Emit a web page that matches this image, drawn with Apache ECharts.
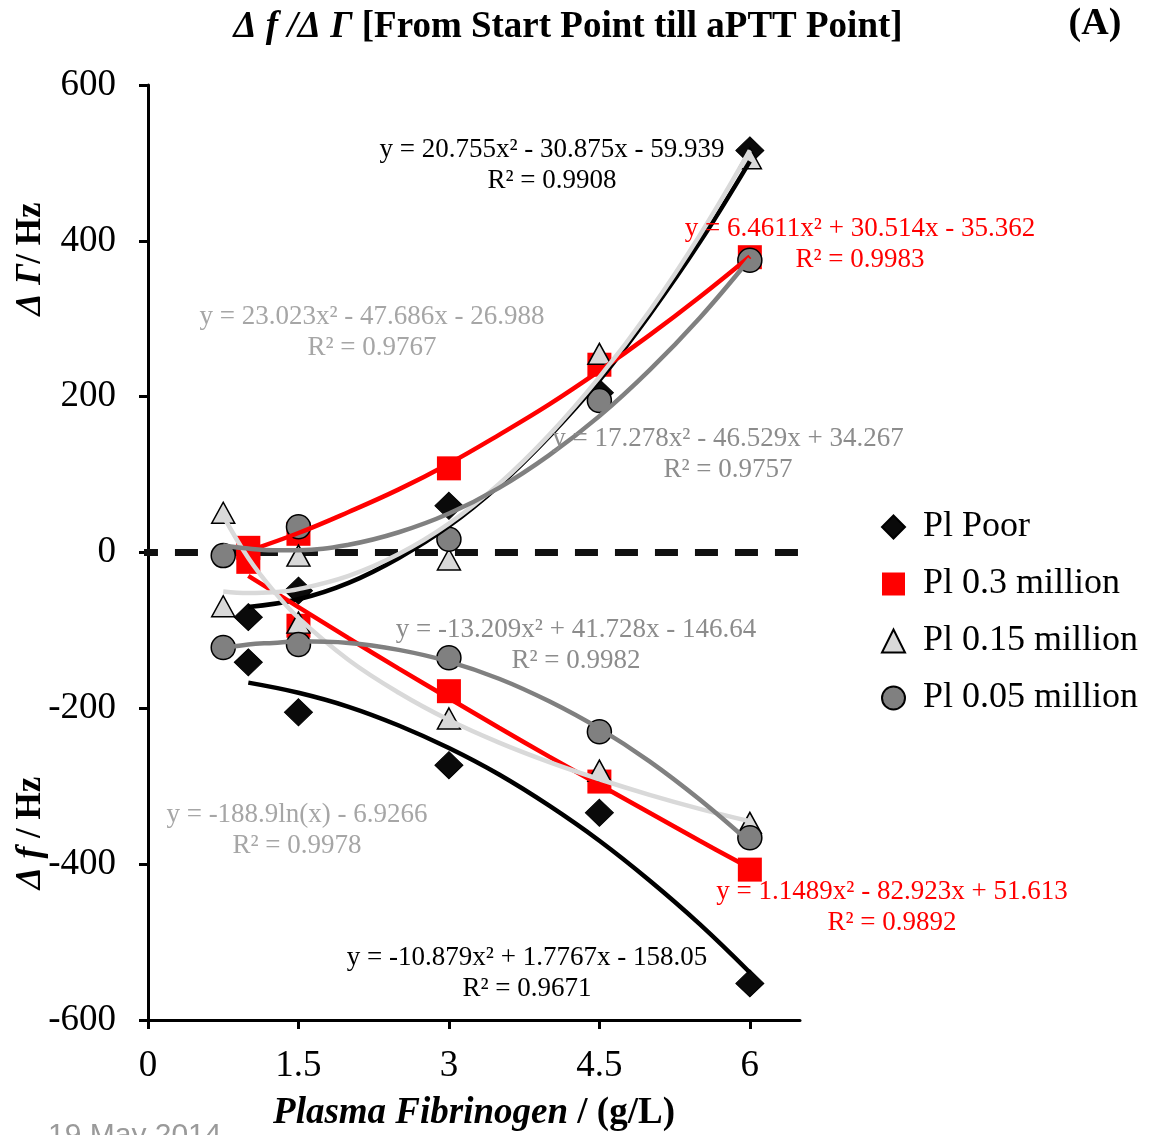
<!DOCTYPE html>
<html><head><meta charset="utf-8">
<script src="https://cdn.jsdelivr.net/npm/echarts@6/dist/echarts.min.js"></script>
<style>html,body{margin:0;padding:0;background:#fff;}#c{width:1149px;height:1135px;}</style>
</head><body><div id="c"></div>
<script>
// ---- data ----
const xTicks = [0, 1.5, 3, 4.5, 6];
const yTicks = [-600, -400, -200, 0, 200, 400, 600];
const seriesNames = ['Pl Poor', 'Pl 0.3 million', 'Pl 0.15 million', 'Pl 0.05 million'];

const xPoor = [1, 1.5, 3, 4.5, 6];
const poorGamma = [-83, -49, 60, 205, 516];
const poorF = [-141, -205, -273, -334, -553];

const x03 = [1, 1.5, 3, 4.5, 6];
const m03Gamma = [6, 24, 108, 241, 379];
const m03F = [-12, -94, -178, -294, -407];

const x015 = [0.75, 1.5, 3, 4.5, 6];
const m015Gamma = [51, -4, -9, 255, 506];
const m015F = [-69, -90, -213, -280, -347];

const x005 = [0.75, 1.5, 3, 4.5, 6];
const m005Gamma = [-4, 33, 17, 195, 375];
const m005F = [-122, -118, -135, -230, -366];

// trendlines, values
const xTrendA = [1, 1.5, 2, 2.5, 3, 3.5, 4, 4.5, 5, 5.5, 6];
const trendPoorGamma = [-70, -60, -39, -7, 34, 86, 149, 221, 305, 398, 502];
const trendPoorF = [-167, -180, -198, -222, -251, -285, -325, -370, -421, -477, -539];
const trend03Gamma = [2, 25, 52, 81, 114, 151, 190, 233, 279, 328, 380];
const trend03F = [-30, -70, -110, -149, -187, -225, -262, -298, -334, -370, -405];
const xTrendB = [0.75, 1, 1.25, 1.5, 2, 2.5, 3, 3.5, 4, 4.5, 5, 5.5, 6];
const trend015Gamma = [-50, -52, -51, -47, -30, -2, 37, 88, 151, 225, 310, 407, 516];
const trend015F = [47, -7, -49, -84, -138, -180, -215, -244, -269, -291, -311, -329, -345];
const trend005Gamma = [9, 5, 3, 3, 10, 26, 50, 83, 125, 175, 234, 301, 377];
const trend005F = [-123, -118, -116, -114, -116, -125, -140, -162, -191, -226, -268, -317, -372];

const zeroLineX = [-0.13, 6.73];
const zeroLineY = [0, 0];

const equations = [
  {t: 'y = 20.755x² - 30.875x - 59.939', r: 'R² = 0.9908', c: '#000000'},
  {t: 'y = 6.4611x² + 30.514x - 35.362', r: 'R² = 0.9983', c: '#ff0000'},
  {t: 'y = 23.023x² - 47.686x - 26.988', r: 'R² = 0.9767', c: '#a6a6a6'},
  {t: 'y = 17.278x² - 46.529x + 34.267', r: 'R² = 0.9757', c: '#8c8c8c'},
  {t: 'y = -13.209x² + 41.728x - 146.64', r: 'R² = 0.9982', c: '#8c8c8c'},
  {t: 'y = -188.9ln(x) - 6.9266', r: 'R² = 0.9978', c: '#a6a6a6'},
  {t: 'y = 1.1489x² - 82.923x + 51.613', r: 'R² = 0.9892', c: '#ff0000'},
  {t: 'y = -10.879x² + 1.7767x - 158.05', r: 'R² = 0.9671', c: '#000000'}
];
// ---- layout ----
const eqPos = [[552,150],[860,229],[372,317],[728,439],[576,630],[297,815],[892,892],[527,958]];

const FONT = '"Liberation Serif", "Times New Roman", serif';
const pairs = (xs, ys) => xs.map((x, i) => [x, ys[i]]);

const chart = echarts.init(document.getElementById('c'), null, {renderer: 'canvas'});

const markerStyles = [
  {symbol: 'diamond', size: [28, 27], item: {color: '#0a0a0a', borderColor: '#000', borderWidth: 1, opacity: 1}},
  {symbol: 'rect', size: 24, item: {color: '#ff0000', borderWidth: 0, opacity: 1}},
  {symbol: 'triangle', size: [23, 21], item: {color: '#d9d9d9', borderColor: '#000', borderWidth: 1.5, opacity: 1}},
  {symbol: 'circle', size: 24, item: {color: '#808080', borderColor: '#000', borderWidth: 1.5, opacity: 1}}
];
const scatterData = [
  pairs(xPoor, poorGamma).concat(pairs(xPoor, poorF)),
  pairs(x03, m03Gamma).concat(pairs(x03, m03F)),
  pairs(x015, m015Gamma).concat(pairs(x015, m015F)),
  pairs(x005, m005Gamma).concat(pairs(x005, m005F))
];

const series = [];
series.push({
  name: 'zero', type: 'line', data: pairs(zeroLineX, zeroLineY), symbol: 'none', clip: false, silent: true,
  lineStyle: {color: '#111', width: 7, type: [23, 17]}, z: 1
});
seriesNames.forEach((n, i) => {
  series.push({
    name: n, type: 'scatter', data: scatterData[i], symbol: markerStyles[i].symbol,
    symbolSize: markerStyles[i].size, itemStyle: markerStyles[i].item, z: 2 + i
  });
});
const trends = [
  [xTrendA, trendPoorGamma, '#000000'], [xTrendA, trendPoorF, '#000000'],
  [xTrendA, trend03Gamma, '#ff0000'], [xTrendA, trend03F, '#ff0000'],
  [xTrendB, trend015Gamma, '#d9d9d9'], [xTrendB, trend015F, '#d9d9d9'],
  [xTrendB, trend005Gamma, '#808080'], [xTrendB, trend005F, '#808080']
];
trends.forEach((t, i) => {
  series.push({
    name: 'trend' + i, type: 'line', data: pairs(t[0], t[1]), symbol: 'none', smooth: 0.4,
    lineStyle: {color: t[2], width: 4.5}, z: 10, silent: true
  });
});

const graphics = [];
equations.forEach((e, i) => {
  graphics.push({type: 'text', x: eqPos[i][0], y: eqPos[i][1],
    style: {text: e.t, fill: e.c, font: '27px ' + FONT, textAlign: 'center', textVerticalAlign: 'middle'}, z: 50});
  graphics.push({type: 'text', x: eqPos[i][0], y: eqPos[i][1] + 31,
    style: {text: e.r, fill: e.c, font: '27px ' + FONT, textAlign: 'center', textVerticalAlign: 'middle'}, z: 50});
});
graphics.push({type: 'text', x: 568, y: 27, style: {
  text: '{a|Δ f /Δ Γ }{b|[From Start Point till aPTT Point]}', textAlign: 'center', textVerticalAlign: 'middle',
  rich: {a: {font: 'italic bold 37px ' + FONT, fill: '#000'}, b: {font: 'bold 37px ' + FONT, fill: '#000'}}}});
graphics.push({type: 'text', x: 1095, y: 24, style: {text: '(A)', font: 'bold 38px ' + FONT, fill: '#000', textAlign: 'center', textVerticalAlign: 'middle'}});
graphics.push({type: 'text', x: 474, y: 1113, style: {
  text: '{a|Plasma Fibrinogen }{b|/ (g/L)}', textAlign: 'center', textVerticalAlign: 'middle',
  rich: {a: {font: 'italic bold 37px ' + FONT, fill: '#000'}, b: {font: 'bold 37px ' + FONT, fill: '#000'}}}});
graphics.push({type: 'text', x: 31, y: 259, rotation: Math.PI / 2, style: {
  text: '{a|Δ Γ}{b|/ Hz}', textAlign: 'center', textVerticalAlign: 'middle',
  rich: {a: {font: 'italic bold 35px ' + FONT, fill: '#000'}, b: {font: 'bold 35px ' + FONT, fill: '#000'}}}});
graphics.push({type: 'text', x: 31, y: 833, rotation: Math.PI / 2, style: {
  text: '{a|Δ f }{b|/ Hz}', textAlign: 'center', textVerticalAlign: 'middle',
  rich: {a: {font: 'italic bold 35px ' + FONT, fill: '#000'}, b: {font: 'bold 35px ' + FONT, fill: '#000'}}}});
graphics.push({type: 'text', x: 48, y: 1121, style: {text: '19 May 2014', font: '30px "Liberation Sans", sans-serif', fill: '#9a9a9a', textAlign: 'left', textVerticalAlign: 'top'}});

chart.setOption({
  animation: false,
  backgroundColor: '#fff',
  grid: {left: 148, right: 349, top: 85, bottom: 115, containLabel: false},
  xAxis: {
    type: 'value', min: 0, max: 6.5, interval: 1.5,
    axisLine: {onZero: false, lineStyle: {color: '#000', width: 3}},
    axisTick: {show: true, length: 9, lineStyle: {color: '#000', width: 3}, customValues: xTicks},
    axisLabel: {color: '#000', fontFamily: FONT, fontSize: 37, margin: 28, customValues: xTicks},
    splitLine: {show: false}
  },
  yAxis: {
    type: 'value', min: -600, max: 600, interval: 200,
    axisLine: {onZero: false, lineStyle: {color: '#000', width: 3}},
    axisTick: {show: true, length: 9, lineStyle: {color: '#000', width: 3}, customValues: yTicks},
    axisLabel: {color: '#000', fontFamily: FONT, fontSize: 37, margin: 32, customValues: yTicks},
    splitLine: {show: false}
  },
  legend: {
    orient: 'vertical', left: 876, top: 504, itemGap: 21, itemWidth: 23, itemHeight: 23,
    data: seriesNames,
    textStyle: {fontFamily: FONT, fontSize: 36, color: '#000', padding: [0, 0, 0, 13]}
  },
  graphic: graphics,
  series: series
});
</script></body></html>
